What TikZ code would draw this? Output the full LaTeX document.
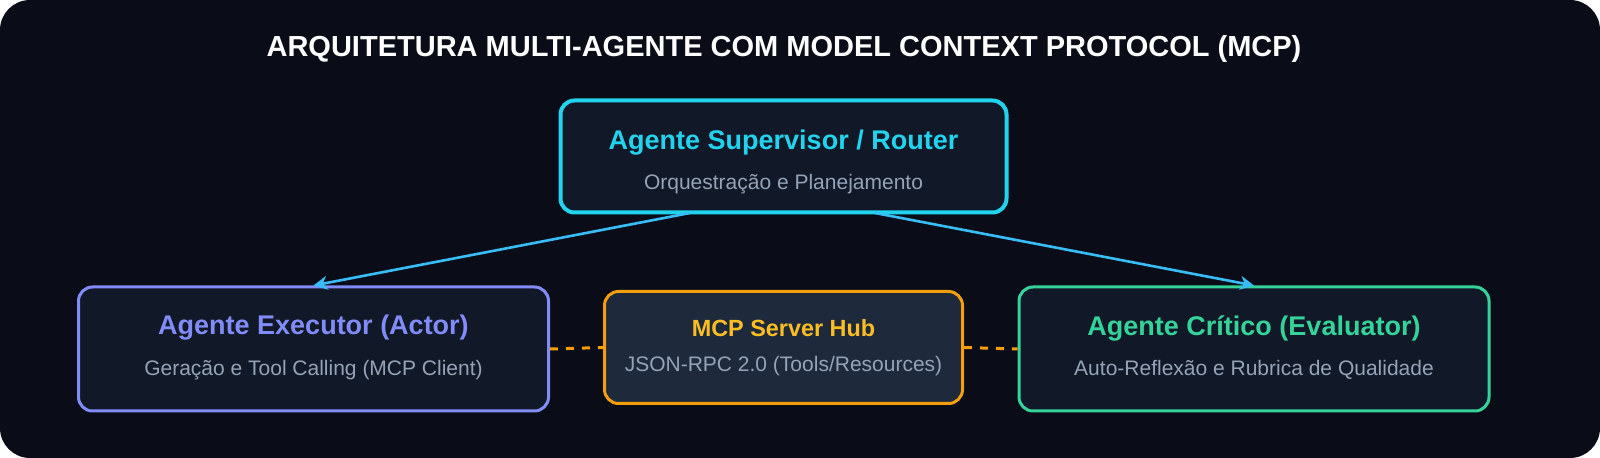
\documentclass[tikz,border=0pt]{standalone}
\usepackage{fontspec}
\setmainfont{Liberation Sans}
\usetikzlibrary{arrows.meta}
\definecolor{bg}{HTML}{0A0D17}
\definecolor{boxfill}{HTML}{111827}
\definecolor{hubfill}{HTML}{1E293B}
\definecolor{cyanc}{HTML}{22D3EE}
\definecolor{indigoc}{HTML}{818CF8}
\definecolor{amberc}{HTML}{F59E0B}
\definecolor{amberl}{HTML}{FBBF24}
\definecolor{greenc}{HTML}{34D399}
\definecolor{subc}{HTML}{94A3B8}
\definecolor{arrowc}{HTML}{38BDF8}
\tikzset{
  agent/.style={line width=1.5pt, rounded corners=7pt, fill=boxfill, inner sep=0pt},
  ttl/.style={font=\bfseries\fontsize{13.5}{15}\selectfont},
  sub/.style={text=subc, font=\fontsize{10.5}{12}\selectfont},
  link/.style={arrowc, line width=1.3pt, -{Stealth[length=7pt,width=7pt]}},
  mcp/.style={amberc, line width=1.5pt, dash pattern=on 4pt off 4pt}
}
\begin{document}
\begin{tikzpicture}[x=0.5pt,y=-0.5pt]
  \useasboundingbox (0,0) rectangle (1600,458);
  \fill [bg, rounded corners=15pt] (0,0) rectangle (1600,458);
  \node [white, font=\bfseries\fontsize{14.5}{16}\selectfont] (title) at (784,49) {ARQUITETURA MULTI-AGENTE COM MODEL CONTEXT PROTOCOL (MCP)};
  % boxes
  \node [agent, draw=cyanc, line width=2pt, minimum width=223pt, minimum height=56pt] (sup) at (783.5,156.5) {};
  \node [ttl, text=cyanc] (supT) at (783.5,143) {Agente Supervisor / Router};
  \node [sub] (supS) at (783.5,184) {Orquestração e Planejamento};
  \node [agent, draw=indigoc, minimum width=235pt, minimum height=62pt] (exe) at (313.5,349) {};
  \node [ttl, text=indigoc] (exeT) at (313.5,328) {Agente Executor (Actor)};
  \node [sub] (exeS) at (313.5,370) {Geração e Tool Calling (MCP Client)};
  \node [agent, draw=amberc, fill=hubfill, minimum width=179pt, minimum height=56pt] (hub) at (783.5,347.5) {};
  \node [text=amberl, font=\bfseries\fontsize{11.7}{13}\selectfont] (hubT) at (783.5,328) {MCP Server Hub};
  \node [sub] (hubS) at (783.5,366) {JSON-RPC 2.0 (Tools/Resources)};
  \node [agent, draw=greenc, minimum width=235pt, minimum height=62pt] (cri) at (1254,349) {};
  \node [ttl, text=greenc] (criT) at (1254,328) {Agente Crítico (Evaluator)};
  \node [sub] (criS) at (1254,370) {Auto-Reflexão e Rubrica de Qualidade};
  % connectors
  \coordinate (supL) at (690,213);
  \coordinate (supR) at (875,213);
  \draw [link] (supL) -- (exe.north);
  \draw [link] (supR) -- (cri.north);
  \draw [mcp] (exe.east) -- (hub.west);
  \draw [mcp] (hub.east) -- (cri.west);
\end{tikzpicture}
\end{document}
